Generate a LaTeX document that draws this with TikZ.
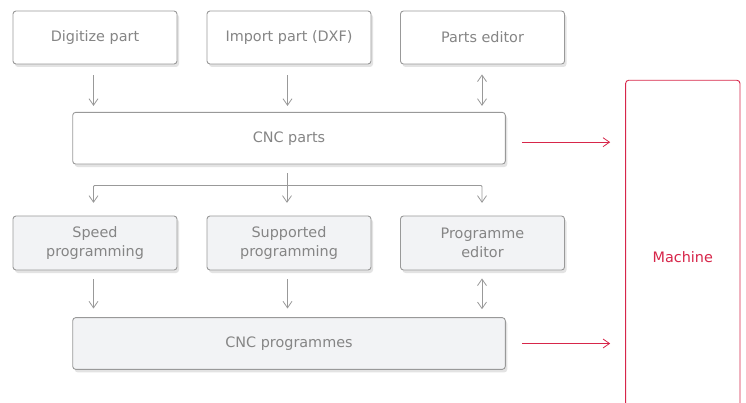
\documentclass[tikz,border=0pt]{standalone}
\usepackage{fontspec}
\setmainfont{DejaVu Sans}
\usetikzlibrary{arrows.meta,shadows}
\definecolor{boxline}{HTML}{999999}
\definecolor{txt}{HTML}{858585}
\definecolor{fillgray}{HTML}{F2F3F5}
\definecolor{machred}{HTML}{D7264A}
\begin{document}
\begin{tikzpicture}[x=1pt,y=-1pt,
  >={Straight Barb[length=6.5pt,width=9pt]},
  box/.style={draw=boxline, rounded corners=3pt, line width=0.9pt, text=txt,
    font=\fontsize{14.4}{19}\selectfont, align=center, inner sep=0pt,
    fill=white, minimum height=53pt,
    drop shadow={shadow xshift=2pt, shadow yshift=-3pt, opacity=0.18, fill=black!60}},
  small/.style={box, minimum width=164pt},
  wide/.style={box, minimum width=432.6pt, minimum height=51.7pt},
  grey/.style={fill=fillgray},
  flow/.style={draw=boxline, line width=0.8pt, ->},
  both/.style={draw=boxline, line width=0.8pt, <->},
  feed/.style={draw=machred, line width=0.8pt, ->},
]
\useasboundingbox (0,0) rectangle (746,403);
\clip (0,0) rectangle (746,403);

% sources of part data
\node[small] (dig) at (95,37.5) {Digitize part};
\node[small] (imp) at (289,37.5) {Import part (DXF)};
\node[small] (ped) at (482.5,37.5) {Parts editor};

\node[wide] (cncp) at (289,138.2) {CNC parts};

% programming stage
\node[small, grey, minimum height=54pt] (spd) at (95,243) {Speed\\programming};
\node[small, grey, minimum height=54pt] (sup) at (289,243) {Supported\\programming};
\node[small, grey, minimum height=54pt] (ped2) at (482.5,243) {Programme\\editor};

\node[wide, grey] (cncprog) at (289,343.5) {CNC programmes};

% machine column, open at the bottom
\node[draw=machred, rounded corners=3pt, line width=0.9pt, fill=white,
  minimum width=114.3pt, minimum height=352.8pt, inner sep=0pt,
  text=machred, font=\fontsize{14.4}{16}\selectfont] (mach) at (682.8,256.7) {Machine};

% connectors into CNC parts
\draw[flow, shorten <=11pt, shorten >=6pt] ([xshift=-1.5pt]dig.south) -- ([xshift=-1.5pt]dig.south |- cncp.north);
\draw[flow, shorten <=11pt, shorten >=6pt] ([xshift=-1.5pt]imp.south) -- ([xshift=-1.5pt]imp.south |- cncp.north);
\draw[both, shorten <=10pt, shorten >=6pt] ([xshift=-0.5pt]ped.south) -- ([xshift=-0.5pt]ped.south |- cncp.north);

% branch from CNC parts to the programming methods
\coordinate (fork) at ([xshift=-2pt,yshift=-21pt]cncp.south);
\draw[boxline, line width=0.8pt, shorten <=9pt] ([xshift=-2pt]cncp.south) -- (fork);
\draw[flow, rounded corners=1pt, shorten >=12.7pt] (fork) -| ([xshift=-1.5pt]spd.north);
\draw[flow, shorten >=12.7pt] (fork) -- ([xshift=-2pt]sup.north);
\draw[flow, rounded corners=1pt, shorten >=12.7pt] (fork) -| ([xshift=-0.5pt]ped2.north);

% connectors into CNC programmes
\draw[flow, shorten <=9pt, shorten >=8.7pt] ([xshift=-1.5pt]spd.south) -- ([xshift=-1.5pt]spd.south |- cncprog.north);
\draw[flow, shorten <=9pt, shorten >=8.7pt] ([xshift=-1.5pt]sup.south) -- ([xshift=-1.5pt]sup.south |- cncprog.north);
\draw[both, shorten <=8pt, shorten >=8pt] ([xshift=-0.5pt]ped2.south) -- ([xshift=-0.5pt]ped2.south |- cncprog.north);

% transfer to the machine
\draw[feed, shorten <=16pt, shorten >=15pt] ([yshift=-4pt]cncp.east) -- ([yshift=-4pt]cncp.east -| mach.west);
\draw[feed, shorten <=16pt, shorten >=15pt] (cncprog.east) -- (cncprog.east -| mach.west);
\end{tikzpicture}
\end{document}
